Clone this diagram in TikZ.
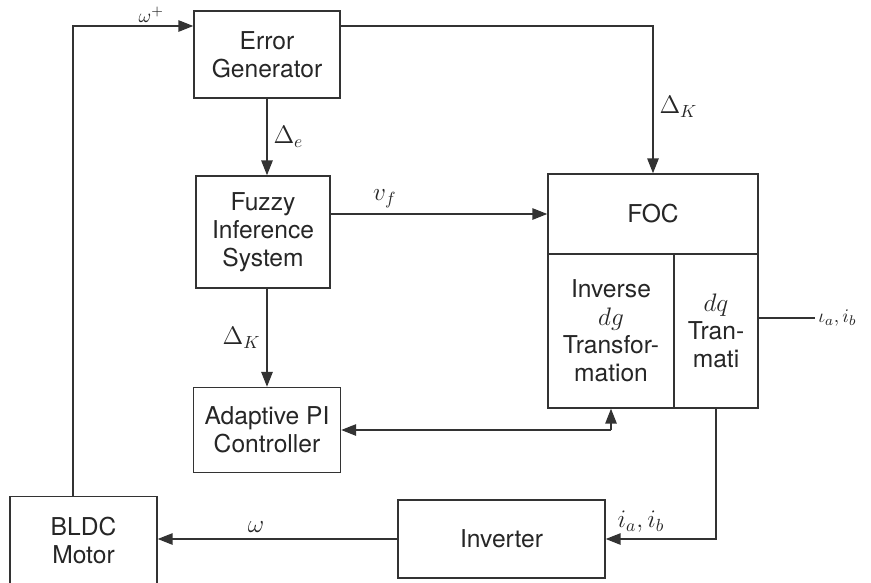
\documentclass[tikz,border=0pt]{standalone}
\usepackage{fontspec}
\setmainfont{TeX Gyre Heros}
\usetikzlibrary{arrows.meta}

\begin{document}
\begin{tikzpicture}[x=0.2mm, y=-0.2mm,
    line width=0.8pt, draw=black!80,
    every node/.style={font=\fontsize{14}{16}\selectfont, text=black!85},
    block/.style={draw, rectangle, align=center, inner sep=0pt},
    small/.style={font=\fontsize{11}{13}\selectfont, inner sep=1.5pt},
    arr/.style={-{Triangle[length=8.5pt, width=6.5pt]}}]
  \useasboundingbox (0,0) rectangle (871,582);

  % boxes
  \node[block, minimum width=29.2mm, minimum height=17.4mm] (err) at (267,54.5) {Error\\Generator};
  \node[block, minimum width=26.8mm, minimum height=22.4mm] (fis) at (263,232) {Fuzzy\\Inference\\System};
  \node[block, minimum width=29.4mm, minimum height=17mm] (api) at (267,430) {Adaptive PI\\Controller};
  \node[block, minimum width=42mm, minimum height=16mm] (foc) at (653,214) {FOC};
  \node[block, minimum width=25.2mm, minimum height=30.8mm] (inv) at (611,331) {Inverse\\$dg$\\Transfor-\\mation};
  \node[block, minimum width=16.8mm, minimum height=30.8mm] (dq) at (716,331) {$dq$\\Tran-\\mati};
  \node[block, minimum width=41.4mm, minimum height=15.6mm] (invt) at (501.5,539) {Inverter};
  \node[block, minimum width=29.4mm, minimum height=17.6mm] (bldc) at (83.5,540.5) {BLDC\\Motor};

  % lines
  \coordinate (fbtop) at (73,26);
  \coordinate (iout) at (815,318);
  \draw[arr] (bldc.north -| fbtop) -- (fbtop) -- node[above, small, pos=0.65] {$\omega^{+}$} (fbtop -| err.west);
  \draw[arr] (fbtop -| err.east) -- (fbtop -| foc.north) -- node[right, pos=0.55] {$\Delta_K$} (foc.north);
  \draw[arr] (err.south) -- node[right] {$\Delta_e$} (err.south |- fis.north);
  \draw[arr] (fis.east |- foc.west) -- node[above, pos=0.25] {$v_f$} (foc.west);
  \draw[arr] (err.south |- fis.south) -- node[left] {$\Delta_K$} (api.north);
  \draw[arr] (inv.south |- api.east) -- (api.east);
  \draw[arr] (inv.south |- api.east) -- (inv.south);
  \draw (dq.east |- iout) -- (iout) node[right, small] {$\iota_a, i_b$};
  \draw[arr] (dq.south) -- (dq.south |- invt.east) -- node[above, pos=0.68] {$i_a, i_b$} (invt.east);
  \draw[arr] (invt.west) -- node[above, pos=0.59] {$\omega$} (invt.west -| bldc.east);
\end{tikzpicture}
\end{document}
